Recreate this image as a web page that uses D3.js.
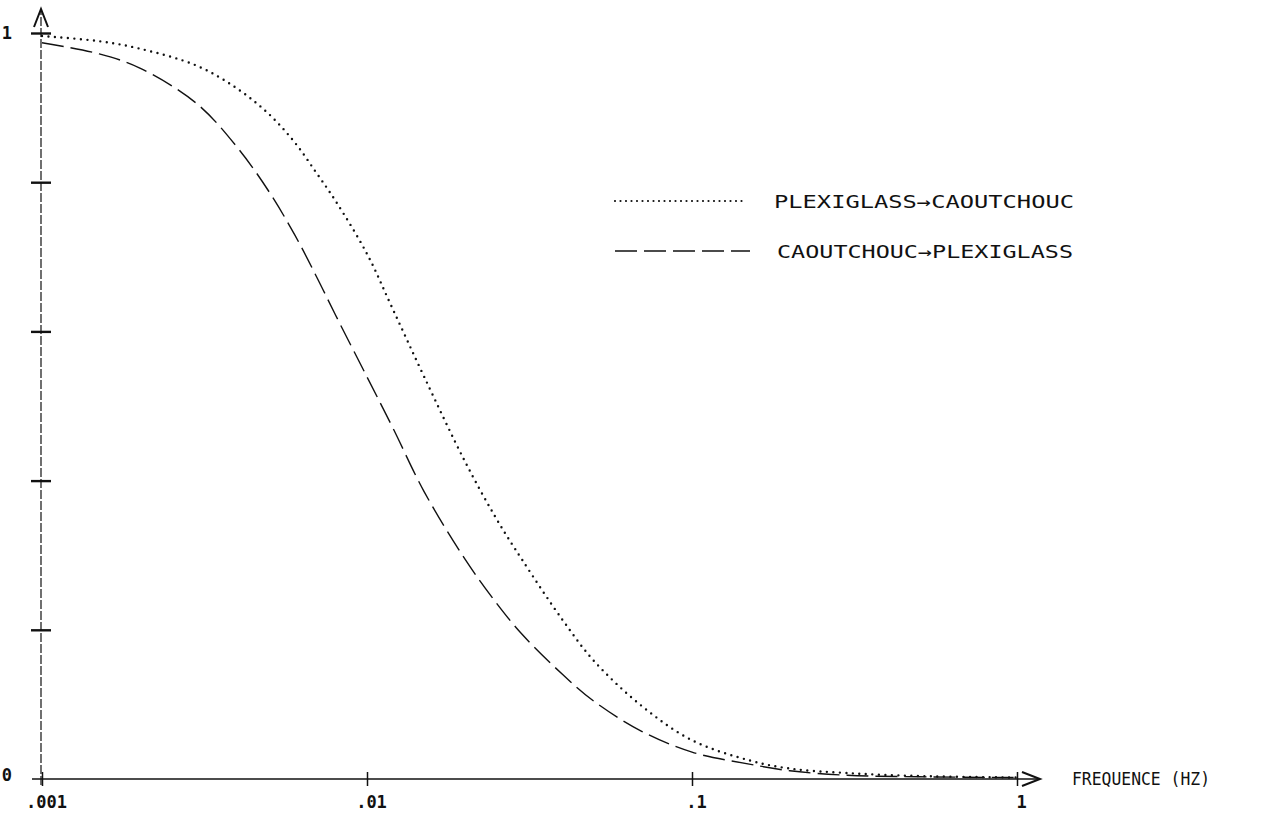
<!DOCTYPE html>
<html>
<head>
<meta charset="utf-8">
<script src="https://cdn.jsdelivr.net/npm/d3@7"></script>
<style>
	body { margin: 0; background: #fff; }
	svg { display: block; }
	.lbl { font-family: "DejaVu Sans Mono", monospace; fill: #111; }
</style>
</head>
<body>
<div id="chart"></div>
<script>
// frequencies (Hz) the curves were read at
var freqs = [0.001, 0.0015, 0.002, 0.003, 0.004, 0.005, 0.006, 0.007, 0.008, 0.01,
	0.012, 0.015, 0.02, 0.025, 0.03, 0.04, 0.05, 0.07, 0.1, 0.15, 0.2, 0.3, 0.5, 1];

// plexiglass -> caoutchouc (dotted)
var plexiCaout = [0.996, 0.989, 0.979, 0.956, 0.925, 0.891, 0.853, 0.812, 0.775, 0.704,
	0.630, 0.539, 0.426, 0.349, 0.294, 0.213, 0.158, 0.098, 0.052, 0.025, 0.014, 0.008, 0.004, 0.002];

// caoutchouc -> plexiglass (dashed)
var caoutPlexi = [0.987, 0.972, 0.953, 0.905, 0.846, 0.787, 0.729, 0.673, 0.622, 0.539,
	0.471, 0.385, 0.295, 0.236, 0.194, 0.140, 0.104, 0.064, 0.036, 0.020, 0.011, 0.005, 0.003, 0.002];

var xTicks = [0.001, 0.01, 0.1, 1];
var xTickLabels = [".001", ".01", ".1", "1"];
var yTicks = [0, 0.2, 0.4, 0.6, 0.8, 1];
var yTickLabels = ["0", "", "", "", "", "1"];

var seriesNames = ["PLEXIGLASS\u2192CAOUTCHOUC", "CAOUTCHOUC\u2192PLEXIGLASS"];

var width = 1277, height = 816;

var svg = d3.select("#chart").append("svg")
	.attr("width", width)
	.attr("height", height);

var x = d3.scaleLog().domain([0.001, 1]).range([42, 1017]);
var y = d3.scaleLinear().domain([0, 1]).range([779, 33]);

var ink = "#111";

// X axis (labels via d3 axis, line + arrow drawn by hand)
var gx = svg.append("g")
	.attr("transform", "translate(0," + y(0) + ")")
	.call(d3.axisBottom(x)
		.tickValues(xTicks)
		.tickFormat(function (d, i) { return xTickLabels[i]; })
		.tickSizeInner(7)
		.tickSizeOuter(0)
		.tickPadding(10));
gx.select(".domain").remove();
gx.selectAll(".tick line").attr("y1", -7).attr("stroke", ink).attr("stroke-width", 1.5);
gx.selectAll(".tick text")
	.attr("class", "lbl")
	.style("font-size", "17px")
	.style("font-weight", "bold")
	.attr("fill", ink)
	.attr("dx", 4);

svg.append("line")
	.attr("x1", x(0.001) - 10).attr("x2", 1040)
	.attr("y1", y(0)).attr("y2", y(0))
	.attr("stroke", ink).attr("stroke-width", 1.7);
svg.append("path")
	.attr("d", "M1022," + (y(0) - 7) + "L1040," + y(0) + "L1022," + (y(0) + 7))
	.attr("fill", "none").attr("stroke", ink).attr("stroke-width", 2);

svg.append("text")
	.attr("class", "lbl")
	.attr("x", 1072).attr("y", y(0) + 6)
	.attr("textLength", 138)
	.attr("lengthAdjust", "spacingAndGlyphs")
	.style("font-size", "18px")
	.text("FREQUENCE  (HZ)");

// Y axis
var gy = svg.append("g")
	.attr("transform", "translate(41,0)")
	.call(d3.axisLeft(y)
		.tickValues(yTicks)
		.tickFormat(function (d, i) { return yTickLabels[i]; })
		.tickSizeInner(10)
		.tickSizeOuter(0)
		.tickPadding(19));
gy.select(".domain").remove();
gy.selectAll(".tick line").attr("x1", -10).attr("x2", 10).attr("stroke", ink).attr("stroke-width", 2.4);
gy.selectAll(".tick text")
	.attr("class", "lbl")
	.style("font-size", "17px")
	.style("font-weight", "bold")
	.attr("fill", ink)
	.attr("dy", function (d) { return d === 0 ? "0.1em" : "0.32em"; });
gy.selectAll(".tick").filter(function (d) { return d === 0; }).select("line").remove();

svg.append("line")
	.attr("x1", 41).attr("x2", 41)
	.attr("y1", y(0) + 6).attr("y2", 9)
	.attr("stroke", ink).attr("stroke-width", 1.2)
	.attr("stroke-dasharray", "9,2");
svg.append("path")
	.attr("d", "M34,27L41,9L48,27")
	.attr("fill", "none").attr("stroke", ink).attr("stroke-width", 2);

// Curves
var line = d3.line()
	.x(function (d) { return x(d[0]); })
	.y(function (d) { return y(d[1]); })
	.curve(d3.curveCatmullRom.alpha(0.5));

svg.append("path")
	.datum(d3.zip(freqs, plexiCaout))
	.attr("d", line)
	.attr("fill", "none").attr("stroke", ink)
	.attr("stroke-width", 2.4)
	.attr("stroke-linecap", "round")
	.attr("stroke-dasharray", "0,6.5");

svg.append("path")
	.datum(d3.zip(freqs, caoutPlexi))
	.attr("d", line)
	.attr("fill", "none").attr("stroke", ink)
	.attr("stroke-width", 1.4)
	.attr("stroke-dasharray", "22,7");

// Legend
var legend = svg.append("g");
legend.append("line")
	.attr("x1", 615).attr("x2", 747).attr("y1", 201).attr("y2", 201)
	.attr("stroke", ink).attr("stroke-width", 2.2)
	.attr("stroke-linecap", "round")
	.attr("stroke-dasharray", "0,5.5");
legend.append("text")
	.attr("class", "lbl")
	.attr("x", 774).attr("y", 208)
	.attr("textLength", 300)
	.attr("lengthAdjust", "spacingAndGlyphs")
	.style("font-size", "18px")
	.text(seriesNames[0]);

legend.append("line")
	.attr("x1", 615).attr("x2", 750).attr("y1", 251).attr("y2", 251)
	.attr("stroke", ink).attr("stroke-width", 1.6)
	.attr("stroke-dasharray", "22,7");
legend.append("text")
	.attr("class", "lbl")
	.attr("x", 777).attr("y", 258)
	.attr("textLength", 296)
	.attr("lengthAdjust", "spacingAndGlyphs")
	.style("font-size", "18px")
	.text(seriesNames[1]);
</script>
</body>
</html>
